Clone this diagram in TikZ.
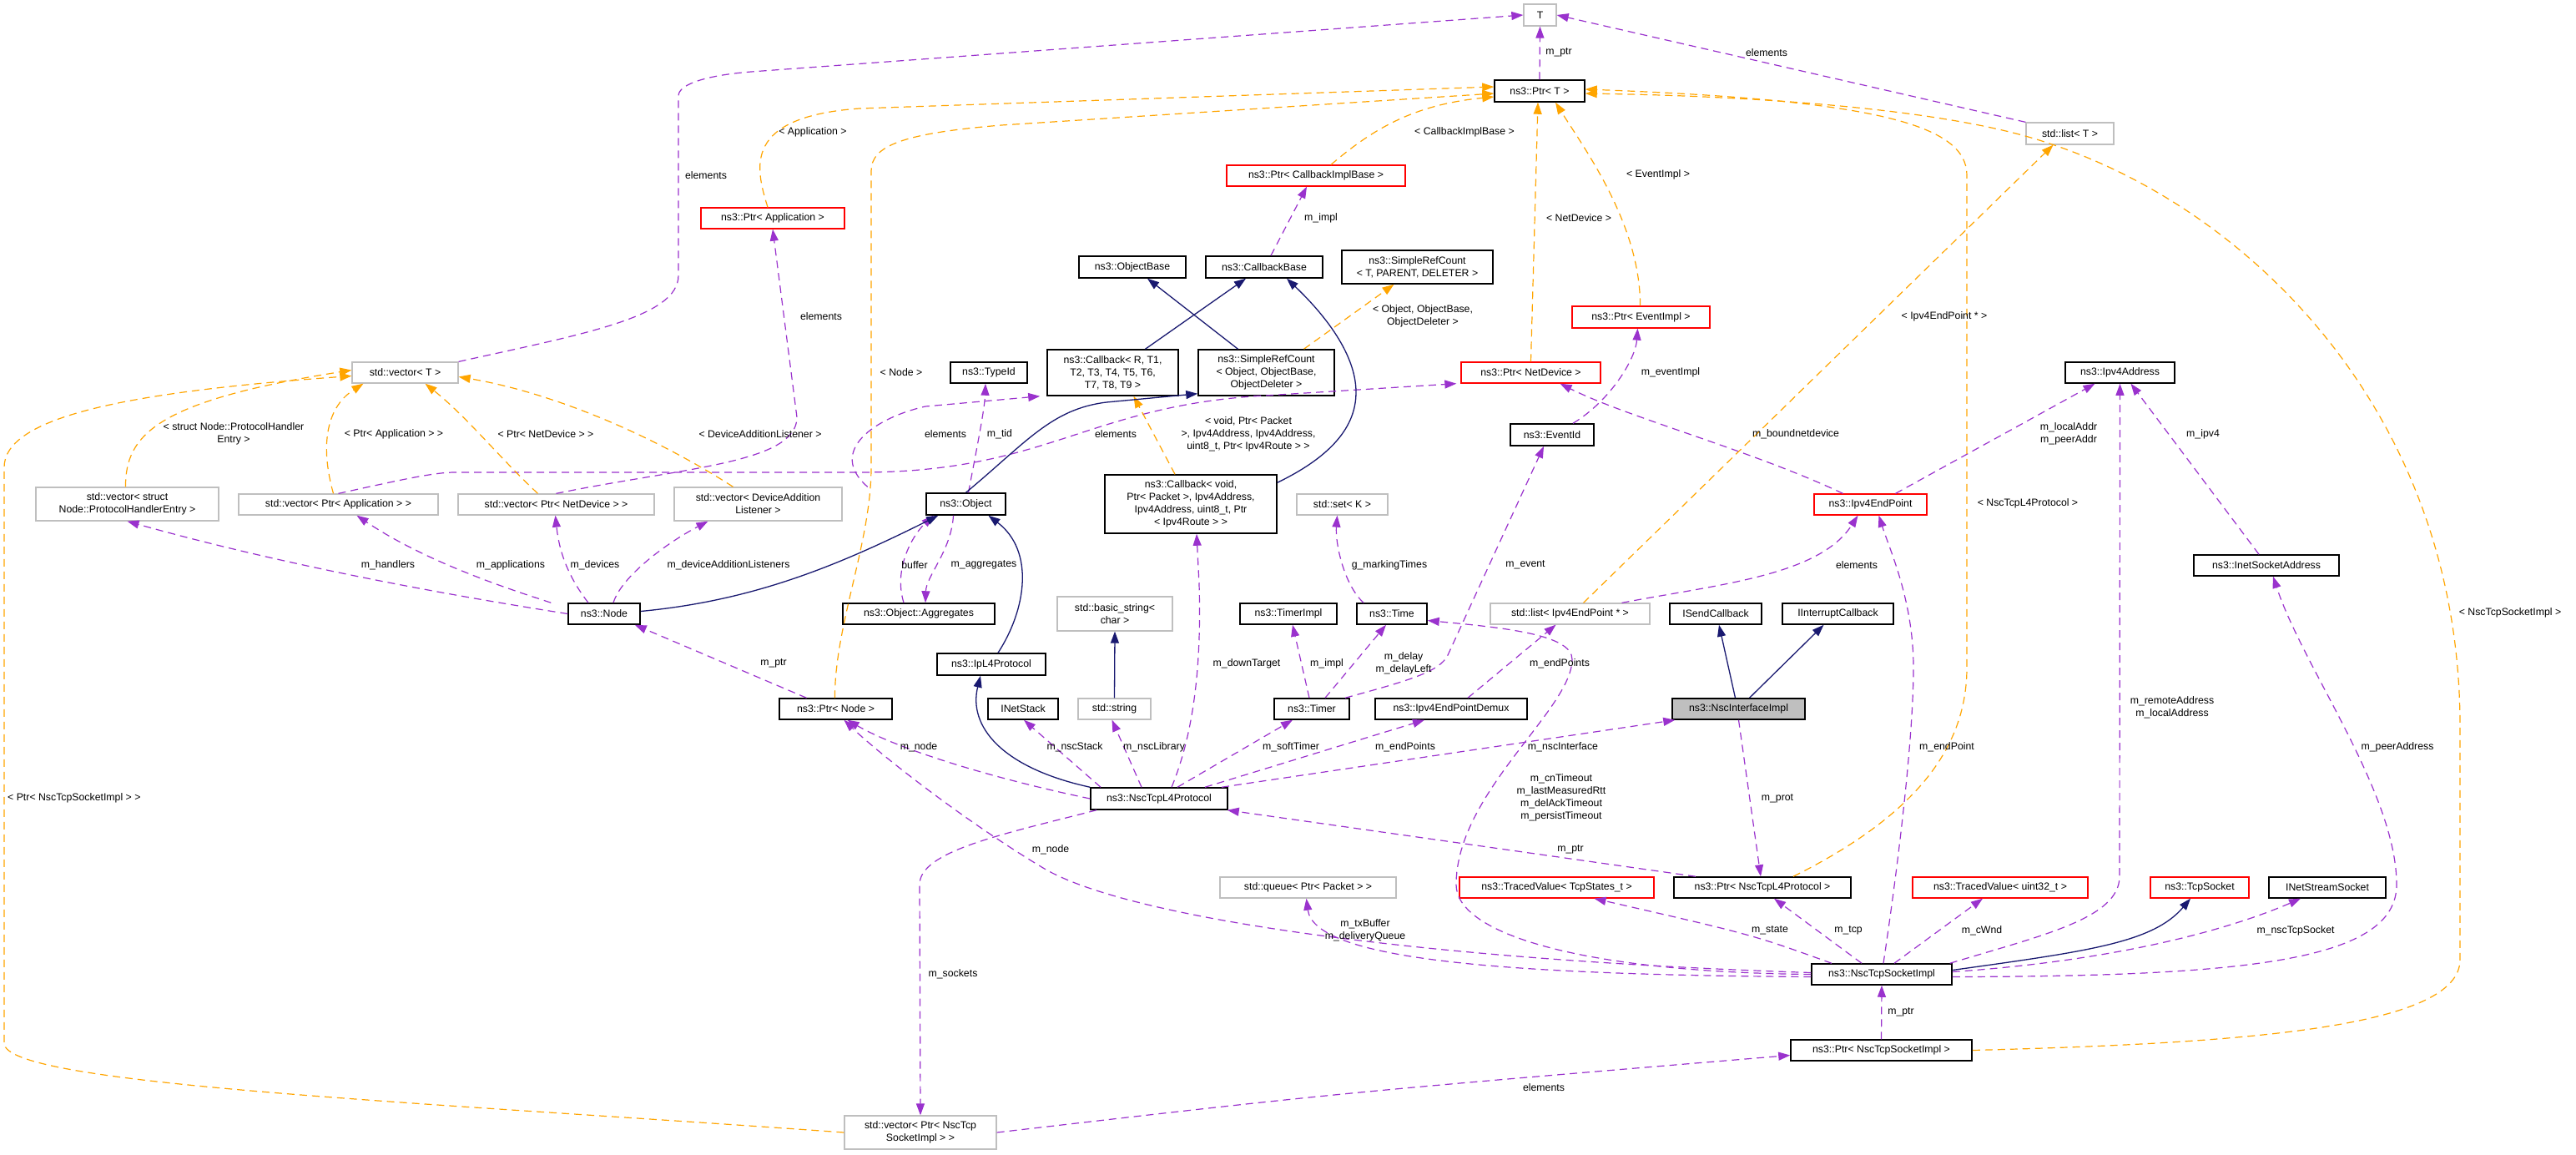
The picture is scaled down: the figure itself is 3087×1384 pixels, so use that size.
\documentclass[tikz,border=0pt]{standalone}
\usepackage{fontspec}
\setmainfont{Liberation Sans}
\usetikzlibrary{arrows.meta}
\definecolor{pur}{HTML}{9A32CD}
\definecolor{org}{HTML}{FFA500}
\definecolor{nav}{HTML}{191970}
\definecolor{gry}{HTML}{BFBFBF}
\tikzset{
 bb/.style={draw=black,line width=1.5pt,fill=white},
 rb/.style={draw=red,line width=1.3pt,fill=white},
 gb/.style={draw=gry,line width=1.3pt,fill=white},
 sb/.style={draw=black,line width=1.5pt,fill=gry},
 pu/.style={draw=pur,line width=1.2pt,dash pattern=on 9pt off 6pt,-{Triangle[length=14pt,width=10pt]}},
 og/.style={draw=org,line width=1.2pt,dash pattern=on 9pt off 6pt,-{Triangle[length=14pt,width=10pt]}},
 nv/.style={draw=nav,line width=1.3pt,-{Triangle[length=14pt,width=10pt]}},
 lb/.style={align=center,inner sep=0pt},
}
\newcommand\bx[7]{\node[#6,inner sep=0pt,align=center,minimum width={(#4-#2)*1pt},minimum height={(#5-#3)*1pt}] (#1) at ({(#2+#4)/2},{-(#3+#5)/2}) {#7};}
\begin{document}
\begin{tikzpicture}[x=1pt,y=1pt,font=\fontsize{12.3}{15}\selectfont]
\useasboundingbox (0,0) rectangle (3087,-1384);
\fill[white] (0,0) rectangle (3087,-1384);
% nodes
\bx{T}{1826}{5}{1865}{31}{gb}{T}
\bx{pT}{1791}{96}{1899}{122}{bb}{ns3::Ptr< T >}
\bx{listT}{2428}{147}{2533}{173}{gb}{std::list< T >}
\bx{pcib}{1470}{198}{1684}{223}{rb}{ns3::Ptr< CallbackImplBase >}
\bx{papp}{840}{249}{1012}{274}{rb}{ns3::Ptr< Application >}
\bx{objb}{1293}{307}{1421}{333}{bb}{ns3::ObjectBase}
\bx{cbb}{1445}{307}{1585}{333}{bb}{ns3::CallbackBase}
\bx{srct}{1608}{300}{1789}{340}{bb}{ns3::SimpleRefCount\\< T, PARENT, DELETER >}
\bx{pei}{1884}{367}{2049}{393}{rb}{ns3::Ptr< EventImpl >}
\bx{vecT}{422}{434}{549}{459}{gb}{std::vector< T >}
\bx{tid}{1139}{434}{1231}{459}{bb}{ns3::TypeId}
\bx{cbr}{1255}{419}{1412}{474}{bb}{ns3::Callback< R, T1,\\T2, T3, T4, T5, T6,\\T7, T8, T9 >}
\bx{srco}{1436}{419}{1599}{474}{bb}{ns3::SimpleRefCount\\< Object, ObjectBase,\\ObjectDeleter >}
\bx{pnd}{1751}{434}{1918}{459}{rb}{ns3::Ptr< NetDevice >}
\bx{ipa}{2475}{434}{2606}{459}{bb}{ns3::Ipv4Address}
\bx{ev}{1810}{508}{1910}{534}{bb}{ns3::EventId}
\bx{vst}{43}{584}{262}{624}{gb}{std::vector< struct\\Node::ProtocolHandlerEntry >}
\bx{vpa}{286}{592}{525}{617}{gb}{std::vector< Ptr< Application > >}
\bx{vpnd}{549}{592}{784}{617}{gb}{std::vector< Ptr< NetDevice > >}
\bx{vdal}{808}{584}{1009}{624}{gb}{std::vector< DeviceAddition\\Listener >}
\bx{obj}{1110}{591}{1205}{617}{bb}{ns3::Object}
\bx{cbv}{1324}{569}{1530}{639}{bb}{ns3::Callback< void,\\Ptr< Packet >, Ipv4Address,\\Ipv4Address, uint8\_t, Ptr\\< Ipv4Route > >}
\bx{set}{1554}{592}{1663}{617}{gb}{std::set< K >}
\bx{ipep}{2174}{592}{2309}{617}{rb}{ns3::Ipv4EndPoint}
\bx{isa}{2629}{665}{2803}{690}{bb}{ns3::InetSocketAddress}
\bx{node}{681}{723}{767}{748}{bb}{ns3::Node}
\bx{agg}{1010}{723}{1192}{748}{bb}{ns3::Object::Aggregates}
\bx{bstr}{1267}{715}{1405}{756}{gb}{std::basic\_string<\\char >}
\bx{tmi}{1486}{723}{1602}{748}{bb}{ns3::TimerImpl}
\bx{time}{1626}{723}{1710}{748}{bb}{ns3::Time}
\bx{lep}{1786}{723}{1977}{748}{gb}{std::list< Ipv4EndPoint * >}
\bx{isc}{2001}{723}{2111}{748}{bb}{ISendCallback}
\bx{iic}{2136}{723}{2269}{748}{bb}{IInterruptCallback}
\bx{ipl4}{1123}{783}{1253}{809}{bb}{ns3::IpL4Protocol}
\bx{pnode}{934}{837}{1069}{862}{bb}{ns3::Ptr< Node >}
\bx{ins}{1184}{837}{1268}{862}{bb}{INetStack}
\bx{str}{1292}{837}{1379}{862}{gb}{std::string}
\bx{timer}{1527}{837}{1617}{862}{bb}{ns3::Timer}
\bx{dmx}{1648}{837}{1830}{862}{bb}{ns3::Ipv4EndPointDemux}
\bx{nscif}{2004}{837}{2163}{862}{sb}{ns3::NscInterfaceImpl}
\bx{l4}{1307}{944}{1471}{970}{bb}{ns3::NscTcpL4Protocol}
\bx{que}{1462}{1051}{1673}{1076}{gb}{std::queue< Ptr< Packet > >}
\bx{tvs}{1749}{1051}{1982}{1076}{rb}{ns3::TracedValue< TcpStates\_t >}
\bx{pnl4}{2006}{1051}{2218}{1076}{bb}{ns3::Ptr< NscTcpL4Protocol >}
\bx{tvu}{2292}{1051}{2502}{1076}{rb}{ns3::TracedValue< uint32\_t >}
\bx{tcps}{2577}{1051}{2695}{1076}{rb}{ns3::TcpSocket}
\bx{inss}{2719}{1051}{2859}{1076}{bb}{INetStreamSocket}
\bx{nsi}{2171}{1155}{2339}{1180}{bb}{ns3::NscTcpSocketImpl}
\bx{pnsi}{2146}{1246}{2363}{1271}{bb}{ns3::Ptr< NscTcpSocketImpl >}
\bx{vns}{1012}{1337}{1194}{1377}{gb}{std::vector< Ptr< NscTcp\\SocketImpl > >}
% purple edges
\draw[pu] (vecT.north east) .. controls (700,-400) and (813,-380) .. (813,-330) -- (813,-115) .. controls (813,-100) and (850,-90) .. (900,-86) -- (T.west);
\draw[pu] (listT.north west) -- (T.east);
\draw[pu] (pT.north) -- (T.south);
\draw[pu] ([xshift=8]cbb.north) -- ([xshift=-11]pcib.south);
\draw[pu] (vpa.north) .. controls (480,-575) and (520,-566) .. (545,-566) -- (1030,-566) .. controls (1250,-566) and (1300,-490) .. (1500,-475) -- ([xshift=-5]pnd.south west);
\draw[pu] (vpnd.north) .. controls (820,-560) and (955,-555) .. (955,-500) -- (papp.south) ;
\draw[pu] ([xshift=30]vdal.north east) .. controls (990,-540) and (1050,-500) .. (1109,-487) -- ([xshift=-8]cbr.south west);
\draw[pu] (node.west) .. controls (550,-715) and (350,-680) .. (vst.south);
\draw[pu] ([xshift=-20]node.north west) .. controls (640,-715) and (520,-680) .. ([xshift=22]vpa.south);
\draw[pu] ([xshift=-19]node.north) .. controls (680,-690) and (670,-660) .. ([xshift=-1]vpnd.south);
\draw[pu] ([xshift=11]node.north) .. controls (745,-690) and (800,-650) .. ([xshift=-60]vdal.south);
\draw[pu] ([xshift=-35]pnode.north) -- ([xshift=-7]node.south east);
\draw[pu] ([xshift=3]obj.north) .. controls (1170,-540) and (1180,-490) .. ([xshift=-4]tid.south);
\draw[pu] ([xshift=-18]agg.north) .. controls (1070,-680) and (1095,-640) .. ([xshift=9]obj.south west);
\draw[pu] ([xshift=-15]obj.south) .. controls (1140,-660) and (1110,-690) .. ([xshift=8]agg.north);
\draw[pu] ([xshift=25]ev.north) .. controls (1930,-480) and (1960,-430) .. ([xshift=-4]pei.south);
\draw[pu] ([xshift=40]timer.north) .. controls (1690,-815) and (1725,-805) .. (1735,-785) -- ([xshift=-10]ev.south);
\draw[pu] ([xshift=-34]time.north) .. controls (1610,-700) and (1600,-650) .. ([xshift=-6]set.south);
\draw[pu] ([xshift=-3]timer.north) -- ([xshift=5]tmi.south);
\draw[pu] ([xshift=16]timer.north) -- ([xshift=-7]time.south);
\draw[pu] ([xshift=20]dmx.north) -- ([xshift=-17]lep.south);
\draw[pu] ([xshift=62]lep.north) .. controls (2060,-700) and (2180,-690) .. ([xshift=-15]ipep.south);
\draw[pu] ([xshift=30]ipep.north) -- ([xshift=-30]ipa.south);
\draw[pu] ([xshift=-33]ipep.north) .. controls (2100,-540) and (1950,-500) .. ([xshift=35]pnd.south);
\draw[pu] ([xshift=-9]isa.north) -- ([xshift=13]ipa.south);
\draw[pu] ([xshift=15]l4.north) .. controls (1430,-880) and (1440,-800) .. (1437,-700) -- ([xshift=7]cbv.south);
\draw[pu] ([xshift=-70]l4.north) -- ([xshift=1]ins.south);
\draw[pu] ([xshift=-21]l4.north) -- ([xshift=-3]str.south);
\draw[pu] ([xshift=22]l4.north) -- ([xshift=-23]timer.south);
\draw[pu] ([xshift=55]l4.north) -- ([xshift=-32]dmx.south);
\draw[pu] ([xshift=75]l4.north) -- ([xshift=4]nscif.south west);
\draw[pu] (l4.west) .. controls (1200,-935) and (1080,-900) .. ([xshift=14]pnode.south);
\draw[pu] ([xshift=-75]l4.south) .. controls (1200,-1000) and (1102,-1020) .. (1102,-1060) -- (vns.north);
\draw[pu] ([xshift=-80]pnl4.north) -- ([xshift=-1]l4.south east);
\draw[pu] (nscif.south) -- ([xshift=-2]pnl4.north);
\draw[pu] (vns.east) .. controls (1600,-1310) .. ([yshift=-6]pnsi.west);
\draw[pu] (pnsi.north) -- (nsi.south);
\draw[pu] ([xshift=-24]nsi.north) -- ([xshift=14]pnl4.south);
\draw[pu] ([xshift=-60]nsi.north) .. controls (2100,-1120) .. ([xshift=45]tvs.south);
\draw[pu] ([xshift=15]nsi.north) -- ([xshift=-21]tvu.south);
\draw[pu] ([xshift=2]nsi.north) .. controls (2280,-1000) and (2293,-870) .. (2293,-800) .. controls (2293,-720) and (2265,-660) .. ([xshift=10]ipep.south);
\draw[pu] ([xshift=-3]nsi.north east) .. controls (2450,-1120) and (2540,-1100) .. (2540,-1050) -- (ipa.south);
\draw[pu] ([yshift=3]nsi.east) .. controls (2550,-1150) and (2680,-1110) .. ([xshift=-32]inss.south);
\draw[pu] ([yshift=-3]nsi.east) .. controls (2700,-1170) and (2872,-1150) .. (2872,-1060) .. controls (2872,-950) and (2760,-800) .. ([xshift=8]isa.south);
\draw[pu] ([yshift=2]nsi.west) .. controls (1700,-1150) and (1350,-1100) .. (1250,-1040) .. controls (1150,-980) and (1050,-900) .. ([xshift=10]pnode.south);
\draw[pu] ([yshift=-3]nsi.west) .. controls (1800,-1168) and (1575,-1150) .. ([xshift=-2]que.south);
\draw[pu] (nsi.west) .. controls (1900,-1165) and (1745,-1120) .. (1745,-1060) .. controls (1745,-950) and (1884,-850) .. (1884,-790) .. controls (1884,-760) and (1800,-752) .. ([yshift=-8]time.east);
% orange edges
\draw[og] ([xshift=-6]papp.north) .. controls (905,-200) and (890,-140) .. (1030,-130) -- ([yshift=5]pT.west);
\draw[og] ([xshift=-1]pnode.north) .. controls (1000,-750) and (1044,-650) .. (1044,-560) -- (1044,-205) .. controls (1044,-175) and (1080,-160) .. (1200,-150) -- ([yshift=-3]pT.west);
\draw[og] ([xshift=18]pcib.north) .. controls (1650,-150) and (1700,-125) .. ([yshift=-7]pT.west);
\draw[og] ([xshift=0]pnd.north) -- ([xshift=-2]pT.south);
\draw[og] ([xshift=-1]pei.north) .. controls (1966,-270) and (1900,-180) .. ([xshift=19]pT.south);
\draw[og] ([xshift=37]pnl4.north) .. controls (2290,-980) and (2357,-900) .. (2357,-800) -- (2357,-210) .. controls (2357,-150) and (2250,-120) .. ([yshift=2]pT.east);
\draw[og] (pnsi.east) .. controls (2700,-1250) and (2948,-1230) .. (2948,-1150) -- (2948,-870) .. controls (2948,-500) and (2700,-250) .. (2450,-170) .. controls (2330,-130) and (2100,-115) .. ([yshift=-3]pT.east);
\draw[og] (vns.west) .. controls (500,-1320) and (5,-1300) .. (5,-1250) -- (5,-560) .. controls (5,-500) and (150,-470) .. ([yshift=-4]vecT.west);
\draw[og] ([xshift=-2]vst.north) .. controls (150,-520) and (190,-480) .. ([yshift=3]vecT.west);
\draw[og] ([xshift=-6]vpa.north) .. controls (385,-540) and (388,-490) .. ([xshift=-50]vecT.south);
\draw[og] ([xshift=-22]vpnd.north) .. controls (600,-550) and (560,-500) .. ([xshift=24]vecT.south);
\draw[og] ([xshift=-30]vdal.north) .. controls (780,-520) and (660,-470) .. ([yshift=-5]vecT.east);
\draw[og] ([xshift=45]srco.north) -- ([xshift=-28]srct.south);
\draw[og] ([xshift=-19]cbv.north) -- ([xshift=25]cbr.south);
\draw[og] ([xshift=16]lep.north) -- ([xshift=-20]listT.south);
% navy edges
\draw[nv] ([xshift=39]cbr.north) -- ([xshift=-22]cbb.south);
\draw[nv] ([xshift=-34]srco.north) -- ([xshift=18]objb.south);
\draw[nv] ([yshift=-10]cbv.north east) .. controls (1610,-540) and (1625,-500) .. (1625,-470) .. controls (1625,-420) and (1580,-370) .. ([xshift=27]cbb.south);
\draw[nv] (obj.north) .. controls (1230,-530) and (1260,-490) .. (1326,-482) -- ([yshift=3]srco.south west);
\draw[nv] ([yshift=3]node.east) .. controls (900,-720) and (1000,-680) .. ([xshift=15]obj.south west);
\draw[nv] ([xshift=8]ipl4.north) .. controls (1230,-730) and (1240,-660) .. ([xshift=27]obj.south);
\draw[nv] (l4.north west) .. controls (1200,-920) and (1160,-870) .. ([xshift=-13]ipl4.south);
\draw[nv] (str.north) -- (bstr.south);
\draw[nv] ([xshift=-4]nscif.north) -- ([xshift=4]isc.south);
\draw[nv] ([xshift=13]nscif.north) -- ([xshift=-17]iic.south);
\draw[nv] ([yshift=5]nsi.east) .. controls (2500,-1140) and (2580,-1130) .. ([xshift=-11]tcps.south);
% labels
\node[lb] at (846,-210) {elements};
\node[lb] at (974,-158) {< Application >};
\node[lb] at (984,-379) {elements};
\node[lb] at (280,-520) {< struct Node::ProtocolHandler\\Entry >};
\node[lb] at (472,-520) {< Ptr< Application > >};
\node[lb] at (654,-520) {< Ptr< NetDevice > >};
\node[lb] at (911,-520) {< DeviceAdditionListener >};
\node[lb] at (465,-677) {m\_handlers};
\node[lb] at (612,-677) {m\_applications};
\node[lb] at (713,-677) {m\_devices};
\node[lb] at (873,-677) {m\_deviceAdditionListeners};
\node[lb] at (1868,-63) {m\_ptr};
\node[lb] at (1755,-158) {< CallbackImplBase >};
\node[lb] at (1583,-261) {m\_impl};
\node[lb] at (1892,-261) {< NetDevice >};
\node[lb] at (1987,-209) {< EventImpl >};
\node[lb] at (1705,-379) {< Object, ObjectBase,\\ObjectDeleter >};
\node[lb] at (1080,-446) {< Node >};
\node[lb] at (2002,-446) {m\_eventImpl};
\node[lb] at (1133,-520) {elements};
\node[lb] at (1198,-520) {m\_tid};
\node[lb] at (1337,-520) {elements};
\node[lb] at (1496,-520) {< void, Ptr< Packet\\>, Ipv4Address, Ipv4Address,\\uint8\_t, Ptr< Ipv4Route > >};
\node[lb] at (1096,-677) {buffer};
\node[lb] at (1179,-677) {m\_aggregates};
\node[lb] at (1665,-677) {g\_markingTimes};
\node[lb] at (1828,-677) {m\_event};
\node[lb] at (2117,-63) {elements};
\node[lb] at (2330,-379) {< Ipv4EndPoint * >};
\node[lb] at (2152,-520) {m\_boundnetdevice};
\node[lb] at (2479,-520) {m\_localAddr\\m\_peerAddr};
\node[lb] at (2640,-520) {m\_ipv4};
\node[lb] at (2430,-603) {< NscTcpL4Protocol >};
\node[lb] at (2225,-677) {elements};
\node[lb] at (927,-795) {m\_ptr};
\node[lb,anchor=west] at (9,-956) {< Ptr< NscTcpSocketImpl > >};
\node[lb] at (1494,-795) {m\_downTarget};
\node[lb] at (1590,-795) {m\_impl};
\node[lb] at (1682,-795) {m\_delay\\m\_delayLeft};
\node[lb] at (1869,-795) {m\_endPoints};
\node[lb] at (1101,-895) {m\_node};
\node[lb] at (1288,-895) {m\_nscStack};
\node[lb] at (1383,-895) {m\_nscLibrary};
\node[lb] at (1547,-895) {m\_softTimer};
\node[lb] at (1684,-895) {m\_endPoints};
\node[lb] at (1873,-895) {m\_nscInterface};
\node[lb] at (1871,-956) {m\_cnTimeout\\m\_lastMeasuredRtt\\m\_delAckTimeout\\m\_persistTimeout};
\node[lb] at (1259,-1018) {m\_node};
\node[lb] at (1882,-1018) {m\_ptr};
\node[lb] at (1636,-1115) {m\_txBuffer\\m\_deliveryQueue};
\node[lb] at (1142,-1167) {m\_sockets};
\node[lb] at (1850,-1303) {elements};
\node[lb] at (2130,-957) {m\_prot};
\node[lb] at (2333,-895) {m\_endPoint};
\node[lb] at (2603,-848) {m\_remoteAddress\\m\_localAddress};
\node[lb] at (2873,-895) {m\_peerAddress};
\node[lb] at (3008,-734) {< NscTcpSocketImpl >};
\node[lb] at (2121,-1115) {m\_state};
\node[lb] at (2215,-1115) {m\_tcp};
\node[lb] at (2375,-1115) {m\_cWnd};
\node[lb] at (2751,-1115) {m\_nscTcpSocket};
\node[lb] at (2278,-1213) {m\_ptr};
\end{tikzpicture}
\end{document}
